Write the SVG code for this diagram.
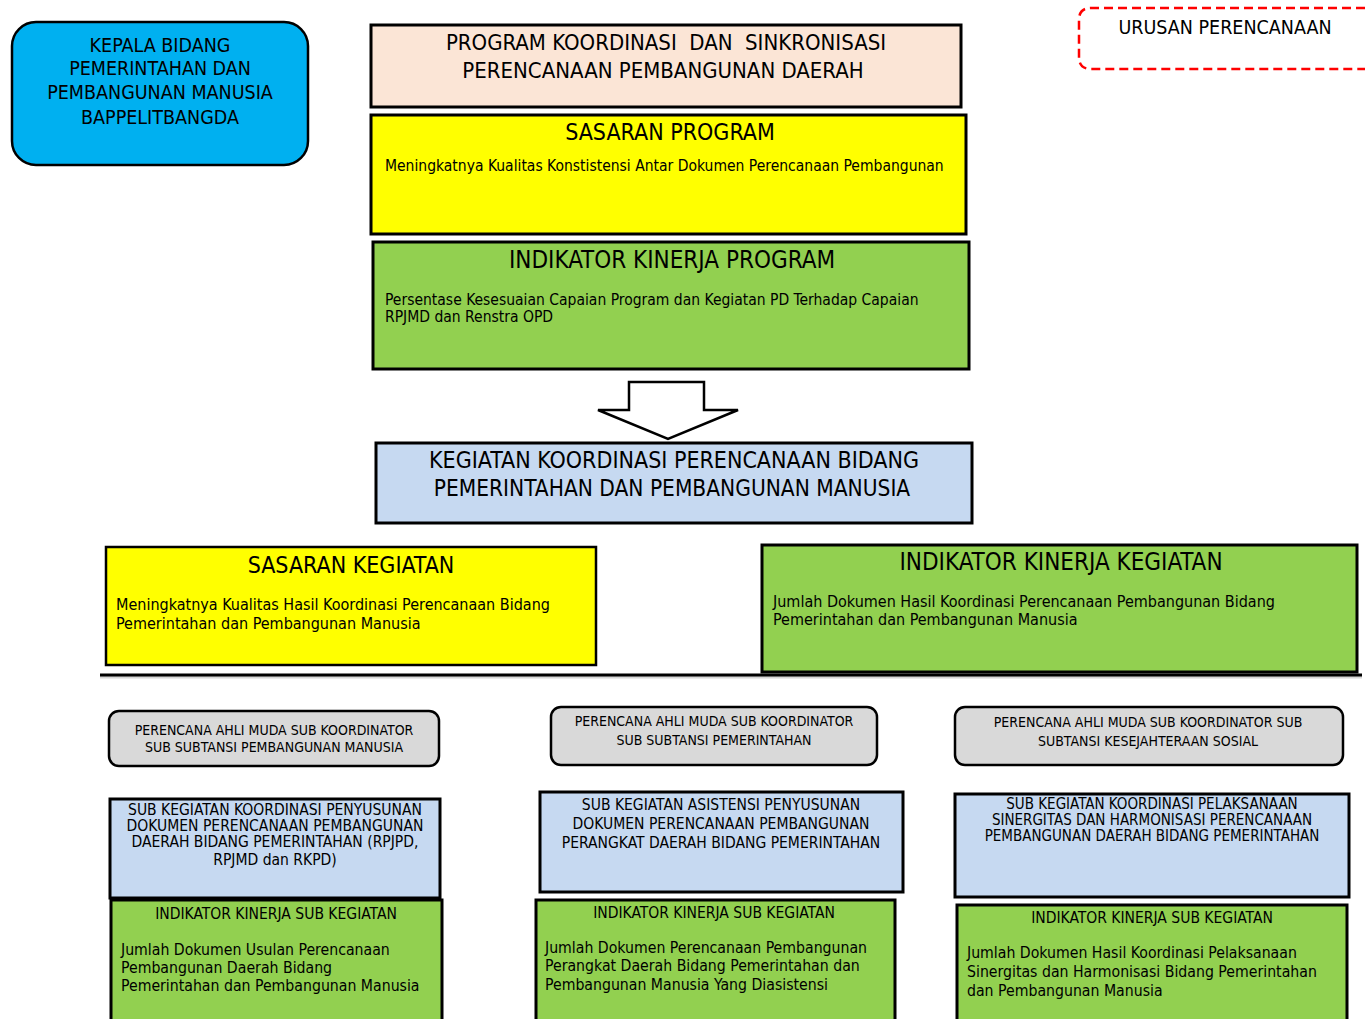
<svg xmlns="http://www.w3.org/2000/svg" width="1365" height="1019" viewBox="0 0 1365 1019">
<style>
text{font-family:"Liberation Sans Narrow","DejaVu Sans Condensed","Liberation Sans",sans-serif;fill:#000}
.c{text-anchor:middle}
.pre{white-space:pre}
.t24{font-size:24px}
.t23{font-size:23px}
.t22{font-size:22px}
.t20{font-size:19.5px}
.t16{font-size:16px}
.t15{font-size:15.5px}
.t157{font-size:15.7px}
.t14{font-size:14px}
.box{stroke:#000;stroke-width:3}
.box2{stroke:#000;stroke-width:2.5}
.yellow{fill:#FFFF00}
.green{fill:#92D050}
.lblue{fill:#C6D9F1}
.gray{fill:#D9D9D9}
</style>
<rect width="1365" height="1019" fill="#fff"/>
<g id="kepala">
<rect x="12" y="22" width="296" height="143" rx="24" fill="#00B0F0" class="box2"/>
<text class="c t20" x="160" y="52">KEPALA BIDANG</text>
<text class="c t20" x="160" y="75">PEMERINTAHAN DAN</text>
<text class="c t20" x="160" y="99">PEMBANGUNAN MANUSIA</text>
<text class="c t20" x="160" y="124">BAPPELITBANGDA</text>
</g>
<g id="urusan">
<path d="M1365,8 H1091 Q1079,8 1079,20 V57 Q1079,69 1091,69 H1365" fill="none" stroke="#FF0000" stroke-width="2.5" stroke-dasharray="9,5"/>
<text class="c t20" x="1225" y="34">URUSAN PERENCANAAN</text>
</g>
<g id="program">
<rect x="371" y="25" width="590" height="82" fill="#FBE5D6" class="box"/>
<text class="c t22 pre" x="666" y="50">PROGRAM KOORDINASI  DAN  SINKRONISASI</text>
<text class="c t22" x="663" y="78">PERENCANAAN PEMBANGUNAN DAERAH</text>
</g>
<g id="sasaran-program">
<rect x="371" y="115" width="595" height="119" class="box yellow"/>
<text class="c t23" x="670" y="140">SASARAN PROGRAM</text>
<text class="t15" x="385" y="171">Meningkatnya Kualitas Konstistensi Antar Dokumen Perencanaan Pembangunan</text>
</g>
<g id="indikator-program">
<rect x="373" y="242" width="596" height="127" class="box green"/>
<text class="c t24" x="672" y="268">INDIKATOR KINERJA PROGRAM</text>
<text class="t15" x="385" y="305">Persentase Kesesuaian Capaian Program dan Kegiatan PD Terhadap Capaian</text>
<text class="t15" x="385" y="322">RPJMD dan Renstra OPD</text>
</g>
<g id="connectors">
<path d="M629,382 H704 V410 H738 L668,439 L598,410 H629 Z" fill="#fff" stroke="#000" stroke-width="2.5" stroke-linejoin="miter"/>
<line x1="100" y1="677" x2="1362" y2="677" stroke="#bbb" stroke-width="3" opacity="0.6"/>
<line x1="100" y1="675" x2="1362" y2="675" stroke="#000" stroke-width="3"/>
</g>
<g id="kegiatan">
<rect x="376" y="443" width="596" height="80" class="box lblue"/>
<text class="c t23" x="674" y="468">KEGIATAN KOORDINASI PERENCANAAN BIDANG</text>
<text class="c" style="font-size:22.5px" x="672" y="496">PEMERINTAHAN DAN PEMBANGUNAN MANUSIA</text>
</g>
<g id="sasaran-kegiatan">
<rect x="106" y="547" width="490" height="118" class="box2 yellow"/>
<text class="c t23" x="351" y="573">SASARAN KEGIATAN</text>
<text class="t16" x="116" y="610">Meningkatnya Kualitas Hasil Koordinasi Perencanaan Bidang</text>
<text class="t16" x="116" y="629">Pemerintahan dan Pembangunan Manusia</text>
</g>
<g id="indikator-kegiatan">
<rect x="762" y="545" width="595" height="127" class="box green"/>
<text class="c t24" x="1061" y="570">INDIKATOR KINERJA KEGIATAN</text>
<text class="t16" x="773" y="607">Jumlah Dokumen Hasil Koordinasi Perencanaan Pembangunan Bidang</text>
<text class="t16" x="773" y="625">Pemerintahan dan Pembangunan Manusia</text>
</g>
<g id="perencana-1">
<rect x="109" y="711" width="330" height="55" rx="10" class="box2 gray"/>
<text class="c t14" x="274" y="735">PERENCANA AHLI MUDA SUB KOORDINATOR</text>
<text class="c t14" x="274" y="752">SUB SUBTANSI PEMBANGUNAN MANUSIA</text>
</g>
<g id="perencana-2">
<rect x="551" y="707" width="326" height="58" rx="10" class="box2 gray"/>
<text class="c t14" x="714" y="726">PERENCANA AHLI MUDA SUB KOORDINATOR</text>
<text class="c t14" x="714" y="745">SUB SUBTANSI PEMERINTAHAN</text>
</g>
<g id="perencana-3">
<rect x="955" y="707" width="388" height="58" rx="10" class="box2 gray"/>
<text class="c t14" x="1148" y="727">PERENCANA AHLI MUDA SUB KOORDINATOR SUB</text>
<text class="c t14" x="1148" y="746">SUBTANSI KESEJAHTERAAN SOSIAL</text>
</g>
<g id="sub-kegiatan-1">
<rect x="110" y="799" width="330" height="99" class="box lblue"/>
<text class="c t15" x="275" y="815">SUB KEGIATAN KOORDINASI PENYUSUNAN</text>
<text class="c t15" x="275" y="831">DOKUMEN PERENCANAAN PEMBANGUNAN</text>
<text class="c t15" x="275" y="847">DAERAH BIDANG PEMERINTAHAN (RPJPD,</text>
<text class="c t15" x="275" y="865">RPJMD dan RKPD)</text>
</g>
<g id="sub-kegiatan-2">
<rect x="540" y="792" width="363" height="100" class="box lblue"/>
<text class="c t15" x="721" y="810">SUB KEGIATAN ASISTENSI PENYUSUNAN</text>
<text class="c t15" x="721" y="829">DOKUMEN PERENCANAAN PEMBANGUNAN</text>
<text class="c t15" x="721" y="848">PERANGKAT DAERAH BIDANG PEMERINTAHAN</text>
</g>
<g id="sub-kegiatan-3">
<rect x="955" y="794" width="394" height="103" class="box lblue"/>
<text class="c" style="font-size:15px" x="1152" y="809">SUB KEGIATAN KOORDINASI PELAKSANAAN</text>
<text class="c" style="font-size:15px" x="1152" y="825">SINERGITAS DAN HARMONISASI PERENCANAAN</text>
<text class="c" style="font-size:15px" x="1152" y="841">PEMBANGUNAN DAERAH BIDANG PEMERINTAHAN</text>
</g>
<g id="indikator-sub-1">
<rect x="111" y="900" width="331" height="125" class="box green"/>
<text class="c t15" x="276" y="919">INDIKATOR KINERJA SUB KEGIATAN</text>
<text class="t157" x="121" y="955">Jumlah Dokumen Usulan Perencanaan</text>
<text class="t157" x="121" y="973">Pembangunan Daerah Bidang</text>
<text class="t157" x="121" y="991">Pemerintahan dan Pembangunan Manusia</text>
</g>
<g id="indikator-sub-2">
<rect x="536" y="900" width="359" height="125" class="box green"/>
<text class="c t15" x="714" y="918">INDIKATOR KINERJA SUB KEGIATAN</text>
<text class="t157" x="545" y="953">Jumlah Dokumen Perencanaan Pembangunan</text>
<text class="t157" x="545" y="971">Perangkat Daerah Bidang Pemerintahan dan</text>
<text class="t157" x="545" y="990">Pembangunan Manusia Yang Diasistensi</text>
</g>
<g id="indikator-sub-3">
<rect x="957" y="905" width="390" height="125" class="box green"/>
<text class="c t15" x="1152" y="923">INDIKATOR KINERJA SUB KEGIATAN</text>
<text class="t157" x="967" y="958">Jumlah Dokumen Hasil Koordinasi Pelaksanaan</text>
<text class="t157" x="967" y="977">Sinergitas dan Harmonisasi Bidang Pemerintahan</text>
<text class="t157" x="967" y="996">dan Pembangunan Manusia</text>
</g>
</svg>
